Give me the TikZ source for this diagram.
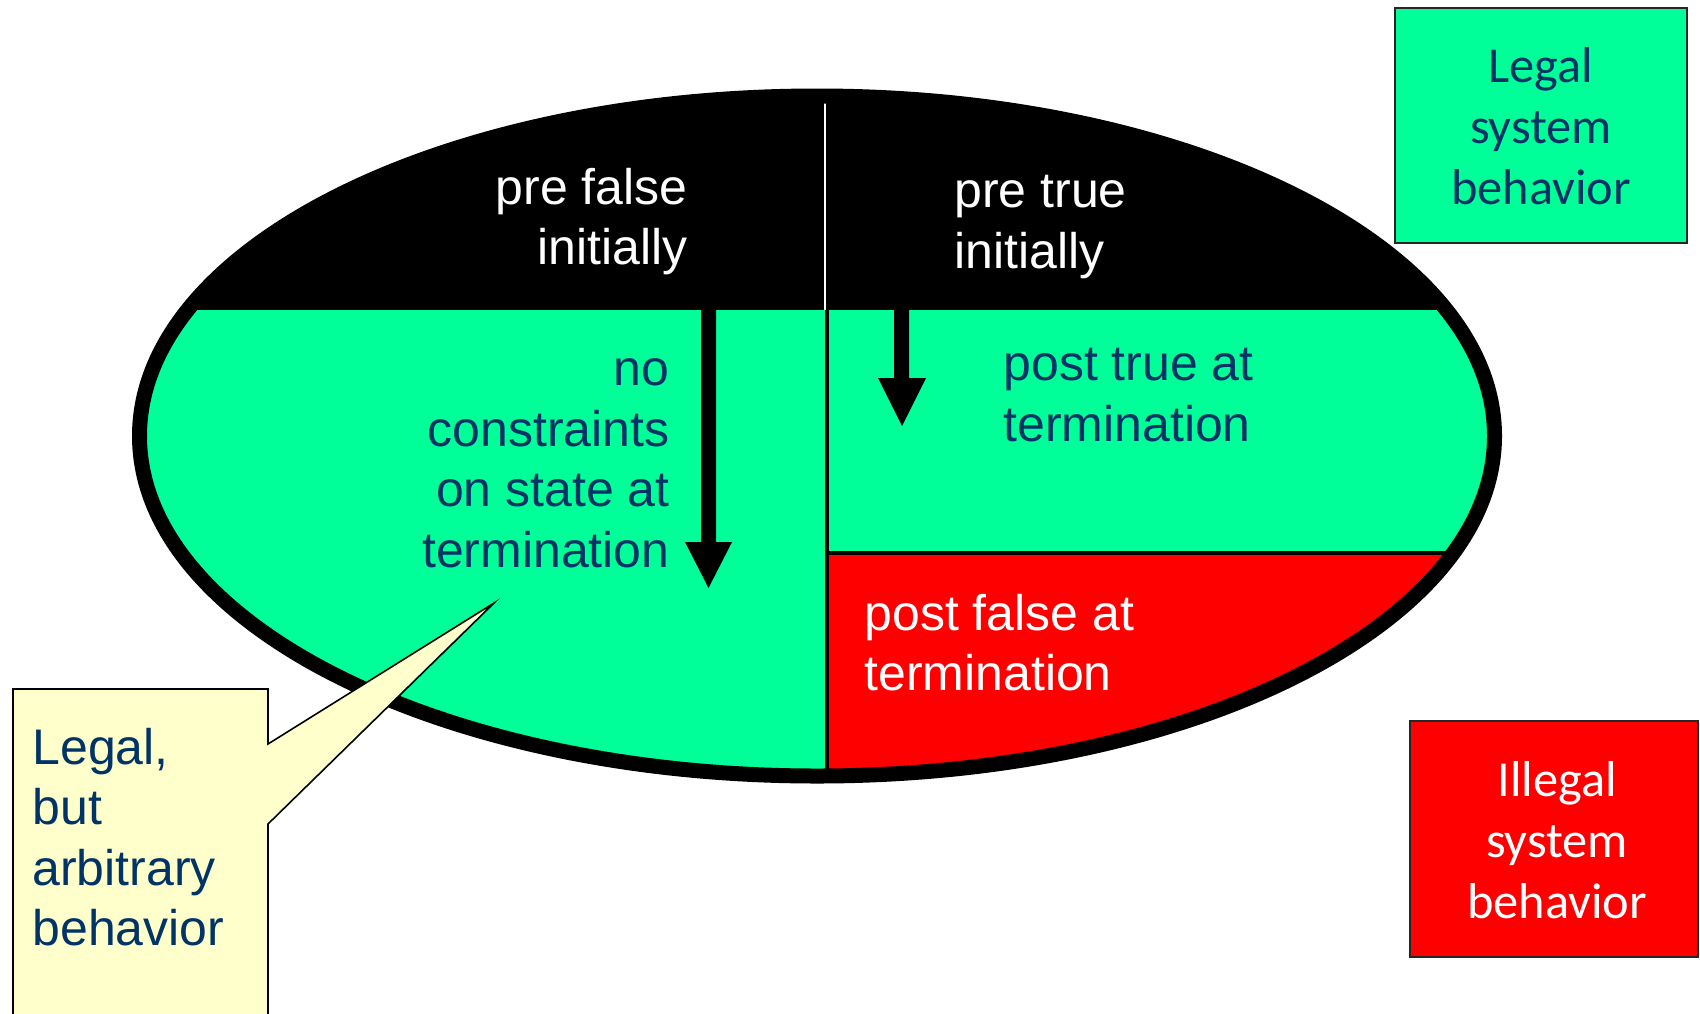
\documentclass[tikz,border=0pt]{standalone}
\usepackage{fontspec}
\setmainfont{Liberation Sans}
\newfontfamily\calibrifont{Carlito}
\definecolor{legalgreen}{RGB}{0,255,153}
\definecolor{illegalred}{RGB}{255,0,0}
\definecolor{navytext}{RGB}{0,51,102}
\definecolor{calloutfill}{RGB}{255,255,204}
\tikzset{
  bigtext/.style={inner sep=0pt, font=\fontsize{25}{30.3}\selectfont,
    execute at begin node=\strut, execute at end node=\strut},
  caltext/.style={inner sep=0pt, font=\calibrifont\fontsize{25.2}{30.5}\selectfont,
    execute at begin node=\strut, execute at end node=\strut, align=center},
  blockarrow/.style={fill=black, draw=none},
  legendbox/.style={line width=1pt, draw=black!85},
}
\begin{document}
\begin{tikzpicture}[x=0.5pt,y=-0.5pt]
\useasboundingbox (0,0) rectangle (1700,1013);
% ellipse body
\begin{scope}
  \clip (817,436) ellipse [x radius=338.75pt, y radius=170pt];
  \fill[legalgreen] (0,0) rectangle (1700,1013);
  \fill[black] (0,0) rectangle (1700,310);
  \fill[illegalred] (827,553) rectangle (1700,1013);
  \draw[black, line width=2pt] (827,553) -- (1700,553);
  \draw[black, line width=2pt] (827,310) -- (827,1013);
  \draw[white, line width=1.25pt] (825,101) -- (825,310);
\end{scope}
\draw[black, line width=7.5pt] (817,436) ellipse [x radius=338.75pt, y radius=170pt];
% arrows
\fill[blockarrow] (701,310) -- (716,310) -- (716,542) -- (732,542) -- (708.5,588)
  -- (685,542) -- (701,542) -- cycle;
\fill[blockarrow] (894,310) -- (909,310) -- (909,378) -- (926,378) -- (902,426)
  -- (878,378) -- (894,378) -- cycle;
% texts inside ellipse
\node[bigtext, white, align=right, anchor=east] (prefalse) at (688,225.5) {pre false\\initially};
\node[bigtext, white, align=left, anchor=west] (pretrue) at (954,231) {pre true\\initially};
\node[bigtext, navytext, align=right, anchor=east] (noconstr) at (670,472)
  {no\\constraints\\on state at\\termination};
\node[bigtext, navytext, align=left, anchor=west] (posttrue) at (1003,404) {post true at\\termination};
\node[bigtext, white, align=left, anchor=west] (postfalse) at (864,651.5) {post false at\\termination};
% legend boxes
\draw[legendbox, fill=legalgreen] (1395,8) rectangle (1687,243);
\node[caltext, navytext] (legal) at (1541,135.5) {Legal\\system\\behavior};
\draw[legendbox, fill=illegalred] (1410,721) rectangle (1698,957);
\node[caltext, white] (illegal) at (1557,849.5) {Illegal\\system\\behavior};
% callout
\draw[line width=0.8pt, fill=calloutfill] (13,689) -- (268,689) -- (268,744) -- (494,603)
  -- (268,824) -- (268,1030) -- (13,1030) -- cycle;
\node[bigtext, navytext, align=left, anchor=west] (callout) at (32,846)
  {Legal,\\but\\arbitrary\\behavior};
\end{tikzpicture}
\end{document}
